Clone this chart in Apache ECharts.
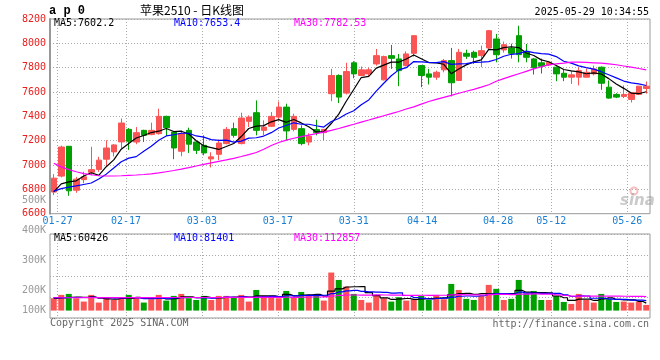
<!DOCTYPE html>
<html><head><meta charset="utf-8">
<script src="https://cdn.jsdelivr.net/npm/echarts@6/dist/echarts.min.js"></script>
<style>html,body{margin:0;padding:0;background:#fff}#c{width:660px;height:360px}</style>
</head><body><div id="c"></div>
<script>
const dates = ['01-24','01-27','02-05','02-06','02-07','02-10','02-11','02-12','02-13','02-14',
'02-17','02-18','02-19','02-20','02-21','02-24','02-25','02-26','02-27','02-28',
'03-03','03-04','03-05','03-06','03-07','03-10','03-11','03-12','03-13','03-14',
'03-17','03-18','03-19','03-20','03-21','03-24','03-25','03-26','03-27','03-28',
'03-31','04-01','04-02','04-03','04-07','04-08','04-09','04-10','04-11','04-14',
'04-15','04-16','04-17','04-18','04-21','04-22','04-23','04-24','04-25','04-28',
'04-29','04-30','05-06','05-07','05-08','05-09','05-12','05-13','05-14','05-15',
'05-16','05-19','05-20','05-21','05-22','05-23','05-26','05-27','05-28','05-29'];
const labelDates = ['01-27','02-17','03-03','03-17','03-31','04-14','04-28','05-12','05-26'];

const opens = [6778,6909,7154,6793,6880,6940,6964,7048,7108,7190, 7293,7189,7285,7250,7258,7400,7271,7113,7285,7189,
7162,7050,7088,7176,7299,7176,7359,7430,7285,7318, 7394,7476,7293,7299,7189,7291,7266,7586,7736,7591,
7840,7736,7749,7831,7700,7899,7872,7817,7918,7817, 7749,7722,7782,7858,7695,7918,7926,7899,7962,8036,
7946,7962,8063,7934,7872,7840,7823,7804,7754,7722, 7722,7722,7749,7804,7640,7580,7564,7539,7580,7629];
const closes = [6892,7148,6788,6884,6903,6962,7040,7140,7165,7345, 7195,7266,7244,7285,7400,7307,7140,7258,7171,7121,
7099,7067,7181,7293,7244,7386,7394,7285,7312,7400, 7476,7280,7400,7176,7236,7266,7293,7736,7558,7768,
7749,7782,7782,7899,7891,7877,7776,7913,8063,7736, 7722,7762,7858,7676,7926,7894,7885,7940,8104,7907,
7989,7918,7907,7885,7799,7812,7844,7749,7722,7741, 7776,7762,7790,7672,7550,7558,7580,7594,7648,7648];
const lows = [6753,6898,6747,6772,6850,6915,6944,6990,7070,7135, 7124,7171,7189,7245,7250,7239,7048,7072,7099,7090,
7080,6980,7040,7170,7225,7170,7312,7244,7244,7312, 7367,7203,7277,7162,7162,7244,7203,7525,7509,7580,
7713,7730,7722,7817,7695,7790,7648,7810,7891,7640, 7662,7700,7762,7564,7690,7872,7831,7804,7955,7844,
7924,7875,7844,7844,7744,7752,7815,7689,7689,7667, 7654,7719,7736,7618,7545,7550,7550,7514,7575,7586];
const highs = [6925,7160,7156,6903,6945,7150,7067,7203,7172,7383, 7304,7312,7290,7348,7463,7405,7275,7285,7307,7195,
7244,7105,7209,7312,7348,7430,7408,7531,7367,7435, 7522,7504,7422,7326,7261,7373,7296,7790,7745,7840,
7853,7809,7800,7954,7899,7987,7913,7934,8065,7822, 7790,7776,7872,7962,7954,7948,7940,7981,8110,8077,
8014,7997,8145,7995,7880,7875,7850,7810,7782,7776, 7804,7793,7817,7810,7695,7590,7654,7600,7650,7686];

const ma5 = [6780,6845,6862,6870,6910, 6937,6915,6986,7042,7130, 7177,7222,7243,7267,7278, 7300,7275,7278,7255,7199,
7158,7143,7128,7152,7177, 7234,7300,7320,7324,7355, 7373,7351,7374,7346,7314, 7272,7274,7341,7418,7524,
7621,7719,7728,7796,7821, 7846,7845,7871,7904,7873, 7842,7839,7828,7751,7789, 7823,7848,7864,7950,7946,
7965,7972,7965,7921,7900, 7864,7849,7818,7785,7774, 7766,7750,7758,7748,7710, 7666,7630,7591,7586,7602.2];
const ma10 = [6785,6806,6818,6828,6840,6852,6885,6925,6975,7027, 7057,7069,7114,7155,7204,7239,7249,7261,7261,7239,
7229,7209,7203,7204,7188,7196,7221,7224,7238,7266, 7304,7325,7347,7335,7335,7323,7312,7358,7382,7419,
7446,7496,7535,7607,7672,7734,7782,7800,7850,7847, 7844,7842,7850,7827,7831,7833,7844,7846,7850,7867,
7894,7910,7915,7936,7923,7915,7911,7891,7853,7837, 7815,7800,7788,7767,7742,7716,7690,7675,7667,7653.4];
const ma30 = [7015,6985,6962,6945,6930, 6920,6912,6910,6910,6912, 6915,6918,6922,6928,6935, 6945,6955,6966,6978,6992,
7005,7017,7030,7042,7055, 7070,7086,7103,7130,7160, 7185,7205,7220,7233,7245, 7258,7271,7285,7300,7318,
7335,7353,7370,7388,7405, 7422,7440,7460,7478,7500, 7522,7540,7556,7572,7590, 7606,7622,7640,7660,7688,
7710,7730,7750,7770,7790, 7808,7823,7832,7838,7845, 7845,7843,7840,7837,7832, 7824,7814,7804,7793,7782.53];

// volumes in thousands (K)
const volumes = [100,127,135,100,73,127,65,108,86,108, 127,105,65,92,127,81,119,135,100,86,
119,86,119,119,108,127,73,167,119,108, 100,159,108,151,119,124,81,308,248,194,
135,86,65,127,100,73,108,81,92,119, 86,127,92,216,167,95,86,119,208,176,
86,95,248,140,159,86,86,119,70,54, 135,86,65,135,92,70,73,65,73,46];
const volMa5 = [98,102,108,110,107,112,100,95,92,99, 99,107,98,99,103,94,97,111,112,104,
112,105,102,106,110,112,109,119,119,119, 113,131,119,125,127,132,117,157,176,191,
193,194,146,121,103,90,95,98,91,95, 97,101,103,128,138,139,131,137,135,137,
135,137,163,149,146,146,144,118,104,83, 93,93,82,95,103,90,87,87,75,60.426];
const volMa10 = [105,105,106,106,106,107,105,104,103,103, 106,103,96,96,101,96,102,105,106,104,
103,101,106,109,107,112,107,110,112,115, 113,120,119,122,123,123,124,138,151,159,
163,155,151,149,147,142,144,122,106,99, 94,98,101,109,116,118,116,120,132,137,
137,134,150,142,141,140,140,140,127,114, 119,118,100,100,93,91,90,85,85,81.401];
const volMa30 = [104,104,104,104,105,105,105,105,105,105, 105,105,105,105,106,106,106,106,106,106,
106,106,106,107,107,107,107,107,107,107, 107,108,107,109,110,110,111,118,123,126,
126,125,125,127,126,125,125,123,123,124, 123,124,124,127,129,128,128,126,129,132,
131,129,134,133,135,134,134,128,122,117, 117,117,117,117,117,117,116,115,115,112.857];

const priceTicks = [6600,6800,7000,7200,7400,7600,7800,8000,8200];
const volTickLabels = [100,200,300,400,500]; // K

const titleText = '苹果2510 - 日K线图';
const codeText = 'a p 0';
const timeText = '2025-05-29 10:34:55';

const RED = '#fa5454', GREEN = '#00a000';
const MONO = '"DejaVu Sans Mono", monospace';
const last = a => a[a.length - 1];

const chart = echarts.init(document.getElementById('c'), null, {renderer: 'canvas'});
const isLabelDate = (i, v) => labelDates.indexOf(v) >= 0;
const dotted = {color: '#aaaaaa', type: [1, 2], width: 1};

const candleData = dates.map((d, i) => [opens[i], closes[i], lows[i], highs[i]]);
const volData = volumes.map((v, i) => ({value: v, itemStyle: {color: closes[i] >= opens[i] ? RED : GREEN}}));

const txt = (x, y, text, fill, font, align) => ({
  type: 'text', x: x, y: y, silent: true,
  style: {text: text, fill: fill, font: font || ('10px ' + MONO), textAlign: align || 'left', textVerticalAlign: 'middle'}
});

const option = {
  animation: false,
  backgroundColor: '#fff',
  grid: [
    {left: 50, top: 19, width: 600, height: 194.7, show: true, borderColor: '#999', borderWidth: 1, containLabel: false, outerBoundsMode: 'none'},
    {left: 50, top: 234, width: 600, height: 84, show: true, borderColor: '#999', borderWidth: 1, containLabel: false, outerBoundsMode: 'none'},
    {left: 50, top: 200.7, width: 600, height: 120, show: false, containLabel: false, outerBoundsMode: 'none'}
  ],
  xAxis: [
    {gridIndex: 0, type: 'category', data: dates, boundaryGap: true, position: 'top',
     axisLine: {show: false}, axisTick: {show: false}, axisLabel: {show: false}, splitLine: {show: false}},
    {gridIndex: 0, type: 'category', data: dates, boundaryGap: false, position: 'bottom',
     axisLine: {show: false}, axisTick: {show: false},
     axisLabel: {show: true, interval: isLabelDate, color: '#1a7fd4', fontFamily: 'DejaVu Sans Mono', fontSize: 10, margin: 3},
     splitLine: {show: true, interval: isLabelDate, lineStyle: dotted}},
    {gridIndex: 1, type: 'category', data: dates, boundaryGap: true, position: 'top',
     axisLine: {show: false}, axisTick: {show: false}, axisLabel: {show: false}, splitLine: {show: false}},
    {gridIndex: 1, type: 'category', data: dates, boundaryGap: false, position: 'bottom',
     axisLine: {show: false}, axisTick: {show: false}, axisLabel: {show: false},
     splitLine: {show: true, interval: isLabelDate, lineStyle: dotted}},
    {gridIndex: 2, type: 'category', data: dates, show: false}
  ],
  yAxis: [
    {gridIndex: 0, type: 'value', min: priceTicks[0], max: last(priceTicks), interval: priceTicks[1] - priceTicks[0], position: 'left',
     axisLine: {show: true, lineStyle: {color: '#999', width: 2}}, axisTick: {show: false},
     axisLabel: {color: '#e8201e', fontFamily: 'DejaVu Sans Mono', fontSize: 10, margin: 4, formatter: v => String(v)},
     splitLine: {show: true, lineStyle: dotted}},
    {gridIndex: 1, type: 'value', min: -60, max: 620, show: false, splitLine: {show: false}},
    {gridIndex: 1, type: 'value', min: 0, max: 4, interval: 1, position: 'right',
     axisLine: {show: false}, axisTick: {show: false}, axisLabel: {show: false},
     splitLine: {show: true, lineStyle: dotted}},
    {gridIndex: 2, type: 'value', min: volTickLabels[0], max: last(volTickLabels), interval: volTickLabels[1] - volTickLabels[0], position: 'left',
     axisLine: {show: false}, axisTick: {show: false}, splitLine: {show: false},
     axisLabel: {color: '#999', fontFamily: 'DejaVu Sans Mono', fontSize: 10, margin: 4,
       formatter: v => v === volTickLabels[0] ? '{u|' + v + 'K}' : v + 'K',
       rich: {u: {color: '#999', fontFamily: 'DejaVu Sans Mono', fontSize: 10, padding: [0, 0, 21, 0]}}}}
  ],
  series: [
    {type: 'candlestick', xAxisIndex: 0, yAxisIndex: 0, data: candleData, barWidth: 6,
     itemStyle: {color: RED, color0: GREEN, borderColor: RED, borderColor0: GREEN, borderWidth: 1}},
    {type: 'line', name: 'MA5', xAxisIndex: 0, yAxisIndex: 0, data: ma5, symbol: 'none', lineStyle: {color: '#000', width: 1.2}},
    {type: 'line', name: 'MA10', xAxisIndex: 0, yAxisIndex: 0, data: ma10, symbol: 'none', lineStyle: {color: '#0000ff', width: 1.2}},
    {type: 'line', name: 'MA30', xAxisIndex: 0, yAxisIndex: 0, data: ma30, symbol: 'none', lineStyle: {color: '#ff00ff', width: 1.2}},
    {type: 'bar', xAxisIndex: 2, yAxisIndex: 1, data: volData, barWidth: 6},
    {type: 'line', xAxisIndex: 2, yAxisIndex: 1, data: volMa5, symbol: 'none', step: 'middle', lineStyle: {color: '#000', width: 1.2}},
    {type: 'line', xAxisIndex: 2, yAxisIndex: 1, data: volMa10, symbol: 'none', step: 'middle', lineStyle: {color: '#0000ff', width: 1.2}},
    {type: 'line', xAxisIndex: 2, yAxisIndex: 1, data: volMa30, symbol: 'none', step: 'middle', lineStyle: {color: '#ff00ff', width: 1.2}}
  ],
  graphic: [
    txt(49, 11, codeText, '#000', 'bold 12px "Liberation Mono", monospace'),
    txt(140, 10, titleText, '#000', '12px "Noto Sans CJK SC", sans-serif'),
    txt(649, 12.5, timeText, '#000', '10px ' + MONO, 'right'),
    txt(54, 23.5, 'MA5:' + last(ma5), '#000'),
    txt(174, 23.5, 'MA10:' + last(ma10), '#0000ff'),
    txt(294, 23.5, 'MA30:' + last(ma30), '#ff00ff'),
    txt(54, 238.5, 'MA5:' + Math.round(last(volMa5) * 1000), '#000'),
    txt(174, 238.5, 'MA10:' + Math.round(last(volMa10) * 1000), '#0000ff'),
    txt(294, 238.5, 'MA30:' + Math.round(last(volMa30) * 1000), '#ff00ff'),
    txt(50, 323.5, 'Copyright 2025 SINA.COM', '#666'),
    txt(649, 324, 'http://finance.sina.com.cn', '#666', '10px ' + MONO, 'right'),
    {type: 'circle', shape: {cx: 634, cy: 191, r: 3.5}, silent: true, style: {fill: 'none', stroke: 'rgba(235,110,110,0.45)', lineWidth: 2}},
    txt(620, 201, 'sina', 'rgba(150,150,150,0.5)', 'italic bold 15px "DejaVu Sans", sans-serif')
  ]
};
chart.setOption(option);
</script>
</body></html>
